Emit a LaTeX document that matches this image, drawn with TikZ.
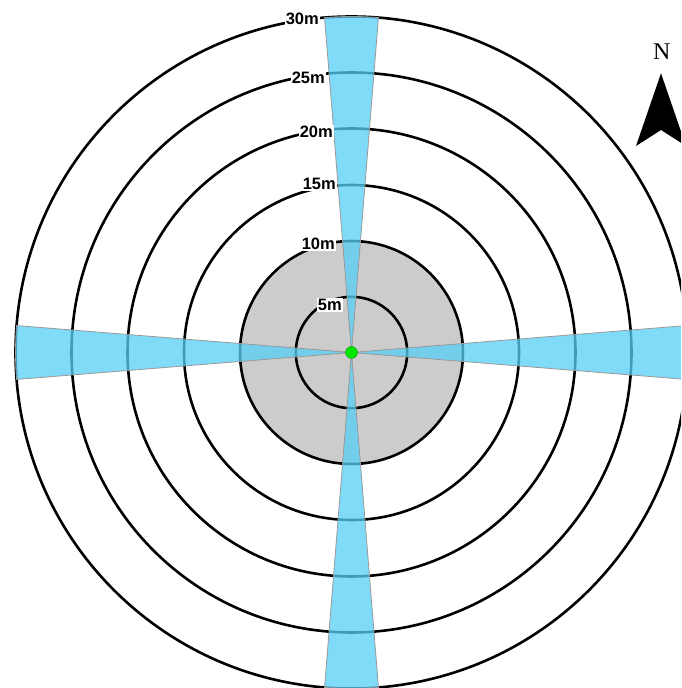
\documentclass[tikz,border=0pt]{standalone}
\usepackage{fontspec}
\usetikzlibrary{calc}
\setsansfont{Liberation Sans}
\newfontfamily\nfont{Liberation Serif}
\definecolor{beam}{RGB}{86,208,248}
\definecolor{disc}{RGB}{204,204,204}
\definecolor{dotgreen}{RGB}{0,230,0}
\begin{document}
\begin{tikzpicture}[x=1pt,y=1pt,
  ring/.style={draw=black,line width=2.6pt},
  beamwedge/.style={fill=beam,fill opacity=0.75,draw=gray!80,line width=0.8pt},
  lbl/.style={fill=white,inner sep=1pt,anchor=east,font=\sffamily\bfseries\fontsize{16.5}{16.5}\selectfont}]
\useasboundingbox (0,0) rectangle (681,688);
\clip (0,0) rectangle (681,688);
\fill[white] (0,0) rectangle (681,688);
\coordinate (C) at (351.5,335.5);
% inner grey disc (10 m)
\fill[disc] (C) circle[radius=111.5];
% rings
\foreach \r in {55.7,111.5,167.5,224,280,336}
  \draw[ring] (C) circle[radius=\r];
% beams
\foreach \a in {0,90,180,270}
  \draw[beamwedge] (C) -- ($(C)+(\a-4.6:336)$) arc[start angle=\a-4.6,end angle=\a+4.6,radius=336] -- cycle;
% labels
\node[lbl] (l30) at (320,669) {30m};
\node[lbl] (l25) at (326,610) {25m};
\node[lbl] (l20) at (334,556) {20m};
\node[lbl] (l15) at (337,504) {15m};
\node[lbl] (l10) at (336,444) {10m};
\node[lbl] (l5) at (343,383) {5m};
% centre point
\fill[dotgreen,draw=green!60!black,line width=0.4pt] (C) circle[radius=6];
% north arrow
\node[font=\nfont\fontsize{24}{24}\selectfont,inner sep=0pt] (N) at (661.7,636) {N};
\coordinate (tip) at (661,614.7);
\coordinate (bl) at (636,542);
\coordinate (notch) at (661,558);
\coordinate (br) at (686,542);
\fill[black] (tip) -- (bl) -- (notch) -- (br) -- cycle;
\end{tikzpicture}
\end{document}
